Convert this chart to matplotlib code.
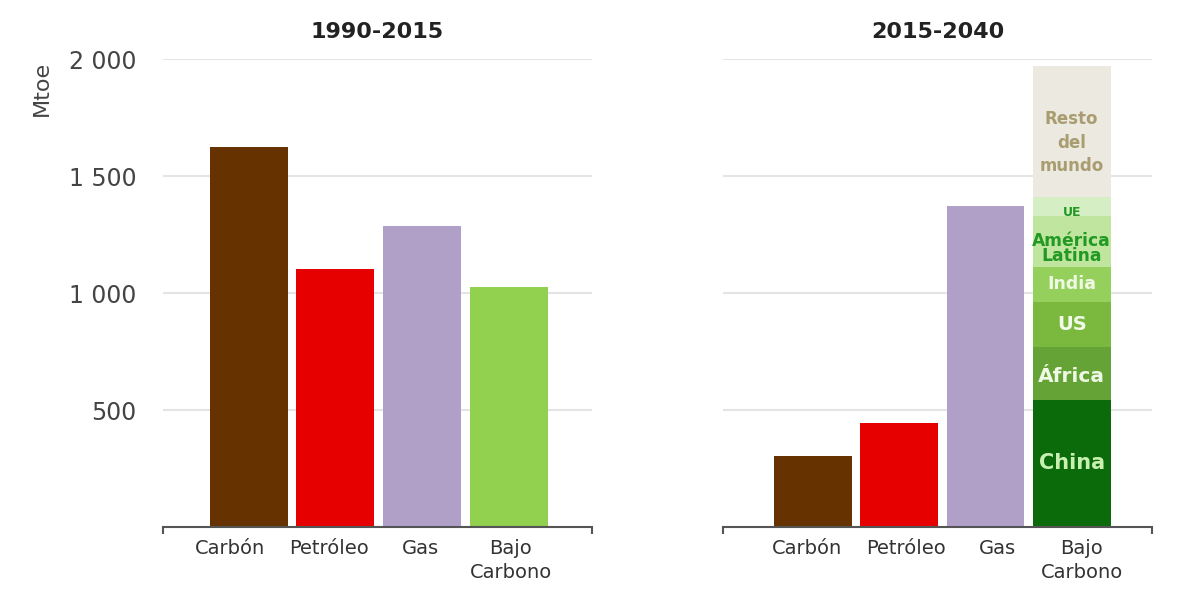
import numpy as np
import matplotlib
matplotlib.use('Agg')
import matplotlib.pyplot as plt

# Mtoe by fuel
categories = ['Carbón', 'Petróleo', 'Gas', 'Bajo\nCarbono']
vals_1990_2015 = [1624, 1103, 1286, 1026]
vals_2015_2040 = [303, 444, 1372]   # low carbon bar is stacked below
fuel_colors = ['#663300', '#e60000', '#b0a0c8', '#92d050']

# low carbon growth 2015-2040 by region (stack order bottom -> top)
regions = ['China', 'África', 'US', 'India', 'América\nLatina', 'UE', 'Resto\ndel\nmundo']
region_vals = [543, 226, 193, 149, 218, 81, 560]
region_colors = ['#0b6b0b', '#66a336', '#7ab83e', '#96d05c', '#bfe59e', '#d6eec4', '#eceae0']
region_text = ['#c8f0b0', '#eef8e4', '#f2faea', '#eef8e4', '#229922', '#229922', '#a89c70']
region_fs = [15, 14.5, 14, 12.5, 12.3, 9, 12]
region_ls = [1.2, 1.2, 1.2, 1.2, 0.8, 1.2, 1.4]
region_dy = [0, -3, 0, 0, -7, -6, -11]   # label nudge, pixels

yticks = [500, 1000, 1500, 2000]
ytick_labels = ['500', '1 000', '1 500', '2 000']

# horizontal nudge of category labels, pixels
label_dx = {'1990-2015': [-19, -6, -2, 2], '2015-2040': [-6, 7, 12, 10]}

plt.rcParams['font.family'] = 'DejaVu Sans'

fig = plt.figure(figsize=(11.86, 6.01), dpi=100)
ax1 = fig.add_axes([0.1374, 0.1231, 0.3617, 0.7787])
ax2 = fig.add_axes([0.6096, 0.1231, 0.3617, 0.7787])

x = np.arange(len(categories))
w = 0.9

ax1.bar(x, vals_1990_2015, width=w, color=fuel_colors, zorder=2)

ax2.bar(x[:3], vals_2015_2040, width=w, color=fuel_colors[:3], zorder=2)
bottom = 0
for name, v, c, tc, fs, ls, dy in zip(regions, region_vals, region_colors, region_text,
                                      region_fs, region_ls, region_dy):
    ax2.bar(x[3], v, bottom=bottom, width=w, color=c, zorder=2)
    ax2.annotate(name, xy=(x[3], bottom + v / 2), xytext=(0, dy), textcoords='offset pixels',
                 ha='center', va='center', color=tc, fontsize=fs, fontweight='bold',
                 linespacing=ls, zorder=3)
    bottom += v

for ax, title, xl in [(ax1, '1990-2015', (-0.99, 3.96)), (ax2, '2015-2040', (-1.04, 3.93))]:
    ax.set_xlim(*xl)
    ax.set_ylim(0, 2000)
    ax.set_title(title, fontsize=16, fontweight='bold', color='#222222', pad=15)
    for s in ['top', 'right', 'left']:
        ax.spines[s].set_visible(False)
    ax.spines['bottom'].set_color('#555555')
    ax.spines['bottom'].set_linewidth(1.5)
    ax.set_xticks(x)
    ax.set_xticklabels([])
    ax.tick_params(axis='x', length=0)
    for xi, cat, dx in zip(x, categories, label_dx[title]):
        ax.annotate(cat, xy=(xi, 0), xycoords=('data', 'axes fraction'),
                    xytext=(dx, -12), textcoords='offset pixels',
                    ha='center', va='top', fontsize=14, color='#333333', linespacing=1.35)
    # little end caps on the baseline
    ax.set_xticks(list(xl), minor=True)
    ax.tick_params(axis='x', which='minor', length=5, width=1.5, color='#555555', direction='out')
    ax.set_yticks(yticks)
    ax.grid(axis='y', color='#e4e4e4', linewidth=1.5)
    ax.set_axisbelow(True)
    ax.tick_params(axis='y', length=0)

ax1.set_yticklabels(ytick_labels, fontsize=17, color='#444444')
ax1.tick_params(axis='y', pad=19)
ax2.set_yticklabels([])

fig.text(42 / 1186, 1 - 88 / 601, 'Mtoe', rotation=90, ha='center', va='center',
         fontsize=16, color='#444444')

fig.savefig('out.png', dpi=100)
